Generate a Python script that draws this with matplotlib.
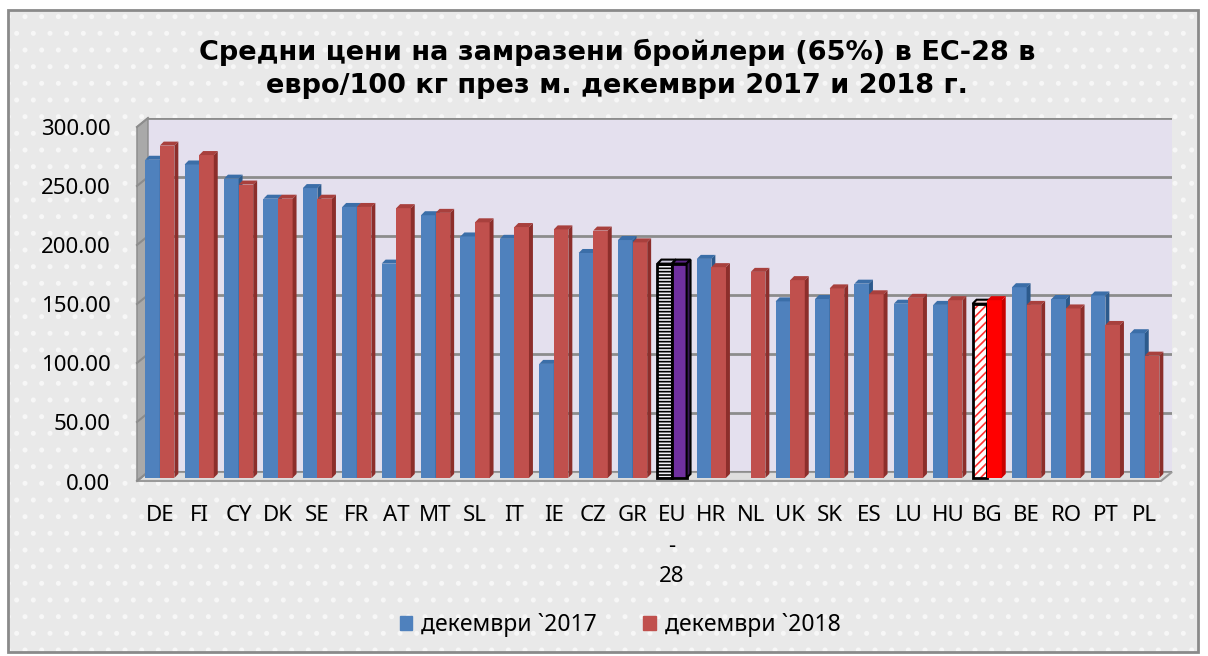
import numpy as np
import matplotlib.pyplot as plt
from matplotlib.patches import Polygon, Rectangle, Patch
from matplotlib.transforms import ScaledTranslation

plt.rcParams['font.family'] = ['Noto Sans', 'DejaVu Sans']
plt.rcParams['hatch.linewidth'] = 1.2

# данни
countries = ['DE', 'FI', 'CY', 'DK', 'SE', 'FR', 'AT', 'MT', 'SL', 'IT', 'IE', 'CZ', 'GR',
             'EU\n-\n28', 'HR', 'NL', 'UK', 'SK', 'ES', 'LU', 'HU', 'BG', 'BE', 'RO', 'PT', 'PL']
dec_2017 = [268, 264, 252, 235, 244, 228, 180, 221, 203, 201, 95, 189, 200,
            180, 184, np.nan, 148, 150, 163, 146, 145, 146, 160, 150, 153, 121]
dec_2018 = [280, 272, 247, 235, 235, 228, 227, 223, 215, 211, 209, 208, 198,
            180, 177, 173, 166, 159, 154, 151, 149, 149, 145, 142, 128, 102]
yticks = [0, 50, 100, 150, 200, 250, 300]
title = 'Средни цени на замразени бройлери (65%) в ЕС-28 в\nевро/100 кг през м. декември 2017 и 2018 г.'
legend_labels = ['декември `2017', 'декември `2018']

W, H = 1208, 656
fig = plt.figure(figsize=(W / 100, H / 100), dpi=100)

# фон с точки и рамка
fig.patches.append(Rectangle((8 / W, 4 / H), 1190 / W, 642 / H, transform=fig.transFigure,
                             facecolor='#e9e9e9', edgecolor='#f7f7f7', hatch='.', lw=0, zorder=-5))
fig.patches.append(Rectangle((8 / W, 4 / H), 1190 / W, 642 / H, transform=fig.transFigure,
                             facecolor='none', edgecolor='#8a8a8a', lw=2, zorder=5))

ax = fig.add_axes([148 / W, (H - 472) / H, (1172 - 148) / W, (472 - 118) / H])
ax.set_xlim(-0.30, 25.69)
ax.set_ylim(0, 300)
ax.set_facecolor('#e4e0ee')
for s in ax.spines.values():
    s.set_visible(False)

x = np.arange(len(countries))
w = 0.37          # ширина на колона
ddx, ddv = 0.10, 3.4   # дълбочина на колоната
base = -5.0       # долен ръб на предната стена
fdx, fdv = 0.28, 7.6   # дълбочина на пода

# под и лява стена
ax.add_patch(Polygon([(-0.30, 0), (25.69, 0), (25.69 - fdx, -fdv), (-0.30 - fdx, -fdv)],
                     closed=True, facecolor='#dedede', edgecolor='#9a9a9a', lw=1.5, clip_on=False, zorder=1))
ax.add_patch(Polygon([(-0.30, 0), (-0.30, 300), (-0.30 - fdx, 300 - fdv), (-0.30 - fdx, -fdv)],
                     closed=True, facecolor='#a9a9a9', edgecolor='#8a8a8a', lw=1, clip_on=False, zorder=1))
for v in yticks:
    ax.axhline(v, color='#8c8c8c', lw=2, zorder=1)
    ax.plot([-0.30, -0.30 - fdx], [v, v - fdv], color='#8c8c8c', lw=1.5, clip_on=False, zorder=1)


def faces(x0, v, side, top, edge='none'):
    t = v - ddv
    ax.add_patch(Polygon([(x0, t), (x0 + w, t), (x0 + w + ddx, t + ddv), (x0 + ddx, t + ddv)],
                         closed=True, facecolor=top, edgecolor=edge, lw=1.5, clip_on=False, zorder=3))
    ax.add_patch(Polygon([(x0 + w, base), (x0 + w, t), (x0 + w + ddx, t + ddv), (x0 + w + ddx, base + ddv)],
                         closed=True, facecolor=side, edgecolor=edge, lw=1.5, clip_on=False, zorder=3))


for i in x:
    # 2017
    if not np.isnan(dec_2017[i]):
        b = ax.bar(i - w, dec_2017[i] - ddv - base, w, bottom=base, align='edge',
                   color='#4f81bd', zorder=3, clip_on=False)[0]
        if countries[i].startswith('EU'):
            b.set_facecolor('#f4f2f8'); b.set_edgecolor('black'); b.set_hatch('-----'); b.set_linewidth(2)
            faces(i - w, dec_2017[i], '#202020', '#d0cce0', 'black')
        elif countries[i] == 'BG':
            b.set_facecolor('white'); b.set_edgecolor('#ff3030'); b.set_hatch('////'); b.set_linewidth(0)
            ax.bar(i - w, dec_2017[i] - ddv - base, w, bottom=base, align='edge', fill=False,
                   edgecolor='black', lw=2, zorder=3, clip_on=False)
            faces(i - w, dec_2017[i], '#202020', '#f0d0d0', 'black')
        else:
            faces(i - w, dec_2017[i], '#2c5a8c', '#3b6ea8')
    # 2018
    col, side, top, edge = '#c0504d', '#8c2e2b', '#a8403d', 'none'
    if countries[i].startswith('EU'):
        col, side, top, edge = '#7030a0', '#3a1a58', '#5a2585', 'black'
    elif countries[i] == 'BG':
        col, side, top = '#ff0000', '#c80000', '#e00000'
    ax.bar(i, dec_2018[i] - ddv - base, w, bottom=base, align='edge', color=col,
           edgecolor=edge, lw=2 if edge != 'none' else 0, zorder=3, clip_on=False)
    faces(i, dec_2018[i], side, top, edge)

ax.set_xticks(x)
ax.set_xticklabels(countries, fontsize=16)
ax.set_yticks(yticks)
ax.set_yticklabels([f'{v:.2f}' for v in yticks], fontsize=16)
ax.tick_params(axis='x', length=0, pad=23.5)
ax.tick_params(axis='y', length=0, pad=27)
for lab in ax.get_xticklabels():
    lab.set_linespacing(1.62)
for lab in ax.get_yticklabels():
    lab.set_transform(lab.get_transform() + ScaledTranslation(0, -0.095, fig.dpi_scale_trans))

fig.text(617 / W, 1 - 68.5 / H, title, ha='center', va='center', fontsize=19.5,
         fontweight='bold', family='DejaVu Sans', linespacing=1.35)

handles = [Patch(color='#4f81bd'), Patch(color='#c0504d')]
fig.legend(handles, legend_labels, loc='center', bbox_to_anchor=(620 / W, 1 - 625 / H), ncol=2,
           frameon=False, fontsize=16.5, handlelength=0.55, handleheight=0.55, handletextpad=0.4,
           columnspacing=2.0)

fig.savefig('out.png', dpi=100)
